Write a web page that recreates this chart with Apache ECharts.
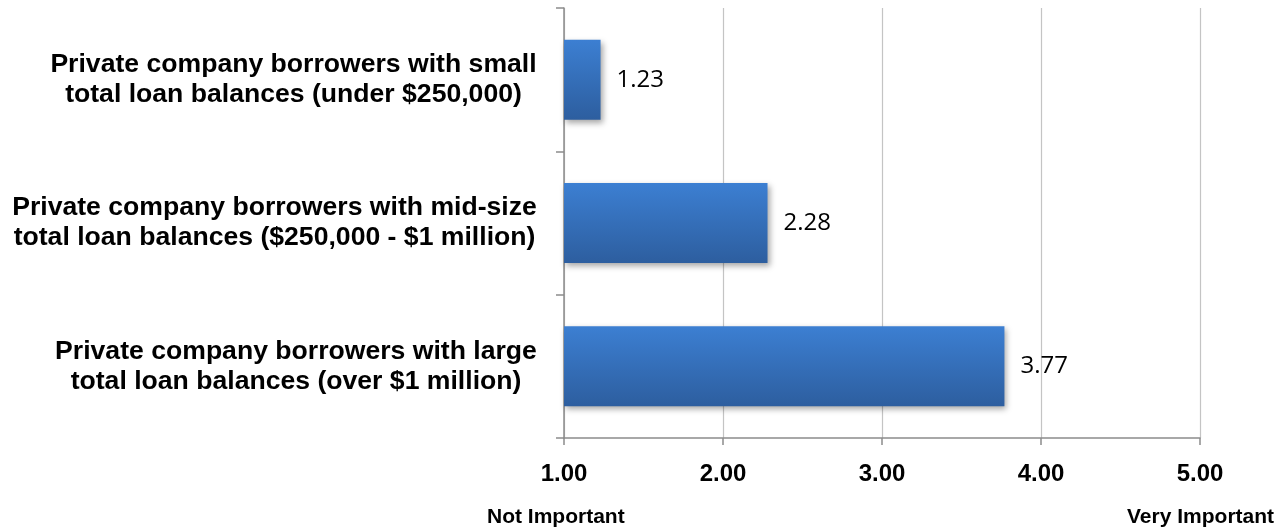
<!DOCTYPE html>
<html><head><meta charset="utf-8">
<script src="https://cdn.jsdelivr.net/npm/echarts@6/dist/echarts.min.js"></script>
<style>html,body{margin:0;padding:0;background:#fff}#c{width:1283px;height:531px}</style>
</head><body><div id="c"></div>
<script>
const categories = [
  "Private company borrowers with large\ntotal loan balances (over $1 million)",
  "Private company borrowers with mid-size\ntotal loan balances ($250,000 - $1 million)",
  "Private company borrowers with small\ntotal loan balances (under $250,000)"
];
const values = [3.77, 2.28, 1.23];
const xTicks = [1, 2, 3, 4, 5];
const scaleLabels = ["Not Important", "Very Important"];

const catSize = 26.6;
const catFont = 'bold ' + catSize + 'px "Liberation Sans", Arial';
const ctx = document.createElement('canvas').getContext('2d');
ctx.font = catFont;
const rich = {};
categories.forEach((c, i) => {
  const w = Math.max(...c.split('\n').map(s => ctx.measureText(s).width));
  rich['w' + i] = {width: Math.ceil(w), align: 'center', fontFamily: 'Liberation Sans, Arial', fontWeight: 'bold', fontSize: catSize, lineHeight: 30, color: '#000'};
});

const chart = echarts.init(document.getElementById('c'), null, {renderer: 'canvas'});
chart.setOption({
  animation: false,
  grid: {left: 564, right: 83, top: 8, bottom: 93, containLabel: false},
  xAxis: {
    type: 'value', min: xTicks[0], max: xTicks[xTicks.length - 1], interval: 1,
    axisLine: {show: true, lineStyle: {color: '#8c8c8c', width: 1.5}},
    axisTick: {show: true, length: 7, lineStyle: {color: '#8c8c8c', width: 1.5}},
    splitLine: {show: true, lineStyle: {color: '#c4c4c4', width: 1.2}},
    axisLabel: {formatter: v => v.toFixed(2), fontFamily: 'Liberation Sans, Arial', fontWeight: 'bold', fontSize: 24, color: '#000', margin: 24}
  },
  yAxis: {
    type: 'category', data: categories,
    axisLine: {show: true, lineStyle: {color: '#8c8c8c', width: 1.5}},
    axisTick: {show: true, length: 8, lineStyle: {color: '#8c8c8c', width: 1.5}},
    axisLabel: {
      align: 'right', margin: 27, rich: rich,
      formatter: (v, i) => v.split('\n').map(s => '{w' + i + '|' + s + '}').join('\n')
    }
  },
  series: [{
    type: 'bar', data: values, barWidth: 80,
    itemStyle: {
      color: new echarts.graphic.LinearGradient(0, 0, 0, 1, [
        {offset: 0, color: '#3c7fd2'}, {offset: 1, color: '#2d5e9f'}
      ]),
      shadowColor: 'rgba(0,0,0,0.35)', shadowBlur: 6, shadowOffsetX: 2, shadowOffsetY: 3
    },
    label: {show: true, position: 'right', distance: 16, formatter: p => p.value.toFixed(2),
      fontFamily: 'Open Sans, Lato, sans-serif', fontSize: 24, color: '#000'}
  }],
  graphic: [
    {type: 'text', left: 487, top: 507, style: {text: scaleLabels[0], font: 'bold 21px "Liberation Sans", Arial', fill: '#000'}},
    {type: 'text', left: 1127, top: 507, style: {text: scaleLabels[1], font: 'bold 21px "Liberation Sans", Arial', fill: '#000'}}
  ]
});
</script></body></html>
